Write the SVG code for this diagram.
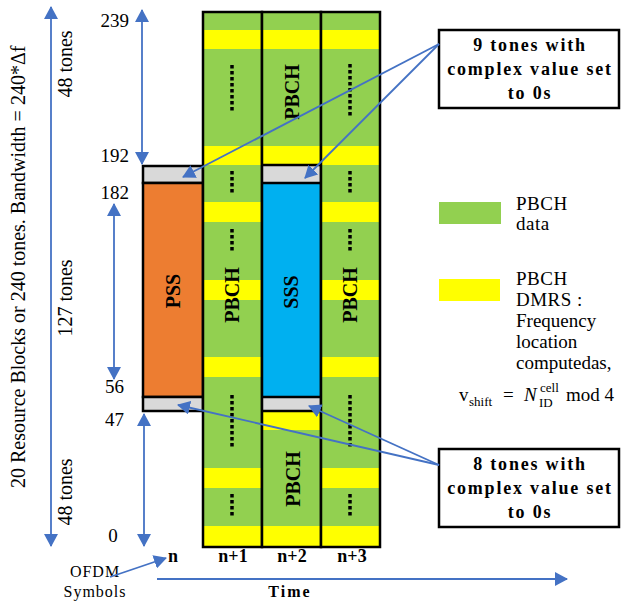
<svg xmlns="http://www.w3.org/2000/svg" width="621" height="603" viewBox="0 0 621 603">
<style>
  .t{font-family:"Liberation Serif","Times New Roman",serif;fill:#000}
  .b{font-weight:bold}
  .ax{stroke:#4472C4;stroke-width:1.8;fill:none}
  .cell{stroke:#000;stroke-width:2.5}
  .dots{stroke:#000;stroke-width:3.5;stroke-dasharray:3.5 2.5}
  .g{fill:#92D050}
  .y{fill:#FFFF00}
  .gr{fill:#D9D9D9}
  .box{fill:#fff;stroke:#000;stroke-width:2.5}
</style>
<defs>
  <marker id="ah" markerUnits="userSpaceOnUse" markerWidth="13" markerHeight="14" viewBox="0 0 13 14" refX="12" refY="7" orient="auto-start-reverse">
    <path d="M0,0 L13,7 L0,14 z" fill="#4472C4"/>
  </marker>
</defs>

<g id="col-n">
  <rect class="gr cell" x="143" y="166" width="60" height="17"/>
  <rect class="cell" x="143" y="183" width="60" height="214" fill="#ED7D31"/>
  <rect class="gr cell" x="143" y="397" width="60" height="14"/>
  <text class="t b" font-size="20" text-anchor="middle" transform="translate(180,291) rotate(-90)">PSS</text>
</g>

<g id="col-n1">
  <rect class="g" x="203" y="12" width="59" height="535"/>
  <rect class="y" x="203" y="30" width="59" height="19"/>
  <rect class="y" x="203" y="146" width="59" height="19"/>
  <rect class="y" x="203" y="202" width="59" height="20"/>
  <rect class="y" x="203" y="280" width="59" height="20"/>
  <rect class="y" x="203" y="357" width="59" height="20"/>
  <rect class="y" x="203" y="468" width="59" height="20"/>
  <rect class="y" x="203" y="526" width="59" height="21"/>
  <rect class="cell" x="203" y="12" width="59" height="535" fill="none"/>
  <line class="dots" x1="232" y1="65" x2="232" y2="110.5"/>
  <line class="dots" x1="232" y1="171" x2="232" y2="192.5"/>
  <line class="dots" x1="232" y1="229" x2="232" y2="250.5"/>
  <line class="dots" x1="232" y1="395" x2="232" y2="446.5"/>
  <line class="dots" x1="232" y1="494" x2="232" y2="515.5"/>
  <text class="t b" font-size="20" text-anchor="middle" transform="translate(239,295) rotate(-90)">PBCH</text>
</g>

<g id="col-n2">
  <rect class="g" x="262" y="12" width="59" height="535"/>
  <rect class="y" x="262" y="30" width="59" height="19"/>
  <rect class="y" x="262" y="146" width="59" height="19"/>
  <rect class="gr" x="262" y="165" width="59" height="18"/>
  <rect x="262" y="183" width="59" height="214" fill="#00B0F0"/>
  <rect class="gr" x="262" y="397" width="59" height="14"/>
  <rect class="y" x="262" y="411" width="59" height="19"/>
  <rect class="y" x="262" y="526" width="59" height="21"/>
  <rect class="cell" x="262" y="12" width="59" height="535" fill="none"/>
  <line class="cell" x1="262" y1="165" x2="321" y2="165"/>
  <line class="cell" x1="262" y1="183" x2="321" y2="183"/>
  <line class="cell" x1="262" y1="397" x2="321" y2="397"/>
  <line class="cell" x1="262" y1="411" x2="321" y2="411"/>
  <text class="t b" font-size="20" text-anchor="middle" transform="translate(299,92) rotate(-90)">PBCH</text>
  <text class="t b" font-size="20" text-anchor="middle" transform="translate(298,292) rotate(-90)">SSS</text>
  <text class="t b" font-size="20" text-anchor="middle" transform="translate(300,479) rotate(-90)">PBCH</text>
</g>

<g id="col-n3">
  <rect class="g" x="321" y="12" width="59" height="535"/>
  <rect class="y" x="321" y="30" width="59" height="19"/>
  <rect class="y" x="321" y="146" width="59" height="19"/>
  <rect class="y" x="321" y="202" width="59" height="20"/>
  <rect class="y" x="321" y="280" width="59" height="20"/>
  <rect class="y" x="321" y="357" width="59" height="20"/>
  <rect class="y" x="321" y="468" width="59" height="20"/>
  <rect class="y" x="321" y="526" width="59" height="21"/>
  <rect class="cell" x="321" y="12" width="59" height="535" fill="none"/>
  <line class="dots" x1="350" y1="64" x2="350" y2="115.5"/>
  <line class="dots" x1="350" y1="171" x2="350" y2="192.5"/>
  <line class="dots" x1="350" y1="229" x2="350" y2="250.5"/>
  <line class="dots" x1="350" y1="395" x2="350" y2="446.5"/>
  <line class="dots" x1="350" y1="494" x2="350" y2="515.5"/>
  <text class="t b" font-size="20" text-anchor="middle" transform="translate(357,295) rotate(-90)">PBCH</text>
</g>

<g id="labels-left">
  <text class="t" font-size="20" transform="translate(25,488) rotate(-90)">20 Resource Blocks or 240 tones.  Bandwidth = 240*Δf</text>
  <text class="t" font-size="20" text-anchor="middle" transform="translate(72,64) rotate(-90)">48 tones</text>
  <text class="t" font-size="20" text-anchor="middle" transform="translate(72,298) rotate(-90)">127 tones</text>
  <text class="t" font-size="20" text-anchor="middle" transform="translate(72,492) rotate(-90)">48 tones</text>
  <text class="t" font-size="19" text-anchor="end" x="129" y="27">239</text>
  <text class="t" font-size="19" text-anchor="end" x="129" y="162">192</text>
  <text class="t" font-size="19" text-anchor="end" x="129" y="199">182</text>
  <text class="t" font-size="19" text-anchor="end" x="124" y="393">56</text>
  <text class="t" font-size="19" text-anchor="end" x="124" y="426">47</text>
  <text class="t" font-size="19" text-anchor="middle" x="113" y="542">0</text>
</g>

<g id="labels-bottom">
  <text class="t b" font-size="18" text-anchor="middle" x="173" y="562">n</text>
  <text class="t b" font-size="18" text-anchor="middle" x="233" y="562">n+1</text>
  <text class="t b" font-size="18" text-anchor="middle" x="292" y="562">n+2</text>
  <text class="t b" font-size="18" text-anchor="middle" x="352" y="562">n+3</text>
  <text class="t" font-size="16" letter-spacing="1" text-anchor="middle" x="95" y="577">OFDM</text>
  <text class="t" font-size="16" letter-spacing="1" text-anchor="middle" x="95" y="597">Symbols</text>
  <text class="t b" font-size="16" letter-spacing="2" text-anchor="middle" x="290" y="597">Time</text>
</g>

<g id="callout-9">
  <rect class="box" x="439" y="30" width="180" height="78"/>
  <text class="t b" font-size="18" letter-spacing="1.8" text-anchor="middle" x="530" y="51">9 tones with</text>
  <text class="t b" font-size="18" letter-spacing="1.8" text-anchor="middle" x="530" y="75">complex value set</text>
  <text class="t b" font-size="18" letter-spacing="1.8" text-anchor="middle" x="530" y="99">to 0s</text>
</g>

<g id="callout-8">
  <rect class="box" x="439" y="449" width="180" height="78"/>
  <text class="t b" font-size="18" letter-spacing="1.8" text-anchor="middle" x="530" y="470">8 tones with</text>
  <text class="t b" font-size="18" letter-spacing="1.8" text-anchor="middle" x="530" y="494">complex value set</text>
  <text class="t b" font-size="18" letter-spacing="1.8" text-anchor="middle" x="530" y="518">to 0s</text>
</g>

<g id="legend-data">
  <rect class="g" x="439" y="202" width="62" height="22"/>
  <text class="t" font-size="19" letter-spacing="0.5" x="516" y="210">PBCH</text>
  <text class="t" font-size="19" letter-spacing="0.5" x="516" y="230">data</text>
</g>

<g id="legend-dmrs">
  <rect class="y" x="439" y="279" width="61" height="22"/>
  <text class="t" font-size="19" letter-spacing="0.5" x="516" y="285">PBCH</text>
  <text class="t" font-size="19" letter-spacing="0.5" x="516" y="306">DMRS :</text>
  <text class="t" font-size="19" x="516" y="327">Frequency</text>
  <text class="t" font-size="19" x="516" y="348">location</text>
  <text class="t" font-size="19" x="516" y="369">computedas,</text>
  <text class="t" font-size="19" x="459" y="401">v</text>
  <text class="t" font-size="13" x="469" y="406">shift</text>
  <text class="t" font-size="19" x="503" y="401">=</text>
  <text class="t" font-size="19" font-style="italic" x="524" y="401">N</text>
  <text class="t" font-size="13" x="540" y="392">cell</text>
  <text class="t" font-size="13" x="539" y="407">ID</text>
  <text class="t" font-size="19" x="566" y="401">mod 4</text>
</g>

<g id="connectors">
  <line class="ax" x1="51" y1="7" x2="51" y2="546" marker-start="url(#ah)" marker-end="url(#ah)"/>
  <line class="ax" x1="142" y1="10" x2="142" y2="164" marker-start="url(#ah)" marker-end="url(#ah)"/>
  <line class="ax" x1="114" y1="204" x2="114" y2="379" marker-start="url(#ah)" marker-end="url(#ah)"/>
  <line class="ax" x1="144" y1="414" x2="144" y2="546" marker-start="url(#ah)" marker-end="url(#ah)"/>
  <line class="ax" x1="157" y1="579" x2="567" y2="579" marker-end="url(#ah)"/>
  <line class="ax" x1="110" y1="577" x2="166" y2="558" marker-end="url(#ah)"/>
  <line class="ax" x1="439" y1="44" x2="183" y2="177" marker-end="url(#ah)"/>
  <line class="ax" x1="439" y1="44" x2="305" y2="178" marker-end="url(#ah)"/>
  <line class="ax" x1="439" y1="465" x2="178" y2="405" marker-end="url(#ah)"/>
  <line class="ax" x1="439" y1="465" x2="309" y2="406" marker-end="url(#ah)"/>
</g>
</svg>
